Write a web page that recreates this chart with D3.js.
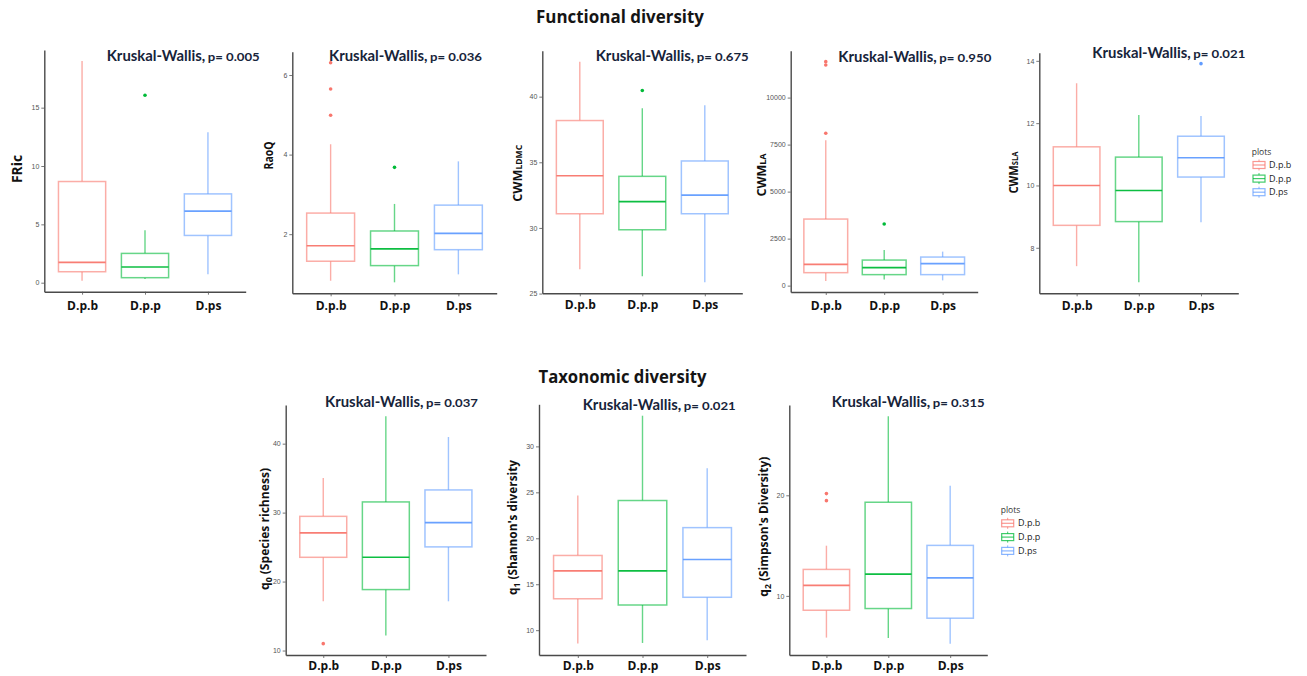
<!DOCTYPE html>
<html><head><meta charset="utf-8">
<script src="https://cdn.jsdelivr.net/npm/d3@7"></script>
<style>body{margin:0;background:#fff} svg{display:block}</style>
</head><body><svg id="c" width="1307" height="676"></svg>
<script>
// ---------- data ----------
const categories = ["D.p.b","D.p.p","D.ps"];
const colors = ["#F8766D","#00BA38","#619CFF"];
// each row: [lower whisker, Q1, median, Q3, upper whisker]
const fricStats = [[0.17,0.94,1.74,8.67,19.0],[0.32,0.43,1.34,2.51,4.5],[0.72,4.05,6.13,7.61,12.9]];
const fricOutliers = [[],[16.07],[]];
const fricTicks = [0,5,10,15];
const raoqStats = [[0.83,1.32,1.71,2.53,4.26],[0.79,1.21,1.63,2.08,2.76],[0.99,1.61,2.02,2.73,3.83]];
const raoqOutliers = [[4.99,5.65,6.31],[3.68],[]];
const raoqTicks = [2,4,6];
const ldmcStats = [[26.85,31.08,33.98,38.18,42.66],[26.32,29.86,32.0,33.93,39.12],[25.86,31.08,32.5,35.1,39.35]];
const ldmcOutliers = [[],[40.47],[]];
const ldmcTicks = [25,30,35,40];
const laStats = [[245,690,1130,3540,7730],[320,585,960,1360,1890],[280,585,1170,1520,1810]];
const laOutliers = [[8100,11730,11910],[3280],[]];
const laTicks = [0,2500,5000,7500,10000];
const slaStats = [[7.41,8.72,10.0,11.24,13.28],[6.89,8.84,9.84,10.91,12.26],[8.82,10.27,10.89,11.58,12.23]];
const slaOutliers = [[],[],[13.91]];
const slaTicks = [8,10,12,14];
const q0Stats = [[17.14,23.52,27.06,29.46,35.03],[12.17,18.84,23.52,31.55,43.96],[17.14,25.03,28.55,33.29,40.97]];
const q0Outliers = [[11.0],[],[]];
const q0Ticks = [10,20,30,40];
const q1Stats = [[8.54,13.42,16.45,18.13,24.66],[8.61,12.74,16.45,24.11,33.34],[8.91,13.58,17.69,21.16,27.61]];
const q1Outliers = [[],[],[]];
const q1Ticks = [10,15,20,25,30];
const q2Stats = [[5.85,8.57,11.04,12.63,14.99],[5.81,8.74,12.16,19.31,27.85],[5.25,7.78,11.79,15.02,20.94]];
const q2Outliers = [[19.47,20.17],[],[]];
const q2Ticks = [10,20];
const kwPValues = ["0.005","0.036","0.675","0.950","0.021","0.037","0.021","0.315"];
const yTitles = [
  [["FRic",1]],
  [["RaoQ",1]],
  [["CWM",1],["LDMC",0.68]],
  [["CWM",1],["LA",0.72]],
  [["CWM",1],["SLA",0.68]],
  [["q",1],["0",0.72,3],[" (Species richness)",1]],
  [["q",1],["1",0.72,3],[" (Shannon's diversity",1]],
  [["q",1],["2",0.72,3],[" (Simpson's Diversity)",1]]
];
const sectionTitles = ["Functional diversity","Taxonomic diversity"];
const legendTitle = "plots";

// ---------- layout ----------
const layout = [
 {l:44.3,r:245.7,t:50,b:291.7, kw:[106.7,61], yt:[17,169,28,15], xb:310},
 {l:292.3,r:496.7,t:51.7,b:293.3, kw:[329,60.7], yt:[268.7,155.5,28,11.5], xb:310},
 {l:542.3,r:742.3,t:50.7,b:293.3, kw:[595.7,61], yt:[517,173.3,57,13], xb:309},
 {l:790.7,r:977.7,t:50.7,b:292, kw:[838.3,61.5], yt:[761,175,43,13], xb:310},
 {l:1039.3,r:1238.3,t:52.7,b:293.3, kw:[1092.3,57.7], yt:[1013,172.5,42,13], xb:310},
 {l:285.7,r:486,t:405,b:655, kw:[325,406.7], yt:[264,529,122,12.5], xb:670},
 {l:539,r:746,t:404.3,b:655, kw:[582.7,410], yt:[512.5,527.5,135,12.5], xb:670},
 {l:789.3,r:987.3,t:405,b:655, kw:[831.7,407.3], yt:[763,526.7,140,12.5], xb:670}
];
const panelData = [
 [fricStats,fricOutliers,fricTicks],[raoqStats,raoqOutliers,raoqTicks],[ldmcStats,ldmcOutliers,ldmcTicks],
 [laStats,laOutliers,laTicks],[slaStats,slaOutliers,slaTicks],[q0Stats,q0Outliers,q0Ticks],
 [q1Stats,q1Outliers,q1Ticks],[q2Stats,q2Outliers,q2Ticks]
];
const legends = [
 {x:1251.7, ty:154.5, keyX:1253, textX:1269, y0:165, step:13.6},
 {x:1000.7, ty:513, keyX:1001.7, textX:1018, y0:523.3, step:13.8}
];
const sectionPos = [[620,23,168],[622.5,383,168]];

const svg = d3.select("#c");
const FONT = "'Open Sans', 'Noto Sans', sans-serif";
const KWFONT = "Lato, 'Open Sans', sans-serif";

function fit(sel, w){ sel.attr("textLength", w).attr("lengthAdjust","spacingAndGlyphs"); }

// section titles
sectionTitles.forEach((t,i)=>{
  svg.append("text").attr("x",sectionPos[i][0]).attr("y",sectionPos[i][1])
    .attr("text-anchor","middle").attr("font-family",FONT).attr("font-weight",700)
    .attr("font-size",17).attr("fill","#151515").text(t).call(fit, sectionPos[i][2]);
});

panelData.forEach(([stats, outs, ticks], i)=>{
  const L = layout[i];
  const g = svg.append("g");
  const vals = stats.flat().concat(outs.flat());
  const [mn, mx] = d3.extent(vals);
  const pad = (mx-mn)*0.05;
  const y = d3.scaleLinear().domain([mn-pad, mx+pad]).range([L.b, L.t]);
  const x = d3.scalePoint().domain(categories).range([L.l, L.r]).padding(0.6);
  const bw = x.step()*0.75;

  // boxes
  categories.forEach((c,j)=>{
    const [lo,q1,md,q3,hi] = stats[j];
    const cx = x(c), col = colors[j];
    const bg = g.append("g").attr("stroke",col).attr("fill","none");
    bg.append("line").attr("x1",cx).attr("x2",cx).attr("y1",y(hi)).attr("y2",y(q3))
      .attr("stroke-width",1.4).attr("stroke-opacity",0.6);
    bg.append("line").attr("x1",cx).attr("x2",cx).attr("y1",y(q1)).attr("y2",y(lo))
      .attr("stroke-width",1.4).attr("stroke-opacity",0.6);
    bg.append("rect").attr("x",cx-bw/2).attr("width",bw).attr("y",y(q3)).attr("height",y(q1)-y(q3))
      .attr("fill","#fff").attr("stroke-width",1.5).attr("stroke-opacity",0.6);
    bg.append("line").attr("x1",cx-bw/2).attr("x2",cx+bw/2).attr("y1",y(md)).attr("y2",y(md))
      .attr("stroke-width",1.6).attr("stroke-opacity",0.95);
    outs[j].forEach(v=>{
      g.append("circle").attr("cx",cx).attr("cy",y(v)).attr("r",1.8).attr("fill",col);
    });
  });

  // y axis
  const ya = g.append("g").attr("transform",`translate(${L.l},0)`)
    .call(d3.axisLeft(y).tickValues(ticks).tickSize(3).tickSizeOuter(0).tickPadding(2).tickFormat(d3.format("d")));
  ya.select(".domain").attr("stroke","#4a4a4a").attr("stroke-width",1.4);
  ya.selectAll(".tick line").attr("stroke","#555").attr("stroke-width",0.8);
  ya.selectAll(".tick text").attr("font-family","'Liberation Sans', Arial, sans-serif")
    .attr("font-size",7).attr("fill","#555");

  // x axis
  const xa = g.append("g").attr("transform",`translate(0,${L.b})`)
    .call(d3.axisBottom(x).tickSize(3).tickSizeOuter(0));
  xa.select(".domain").attr("stroke","#4a4a4a").attr("stroke-width",1.4);
  xa.selectAll(".tick line").attr("stroke","#555").attr("stroke-width",0.8);
  xa.selectAll(".tick text").attr("y", L.xb - L.b).attr("dy",0)
    .attr("font-family",FONT).attr("font-weight",700).attr("font-size",12).attr("fill","#111");

  // KW label (one text element, two runs)
  const kw = g.append("text").attr("x",L.kw[0]).attr("y",L.kw[1])
    .attr("font-family",KWFONT).attr("font-weight",700).attr("fill","#17243a");
  kw.append("tspan").attr("font-size",14.5).text("Kruskal-Wallis,").call(fit,98.5);
  kw.append("tspan").attr("font-size",10.5).attr("dx",2.5).text("p= "+kwPValues[i]).call(fit,52);

  // y title
  const [tx,ty,tl,ts] = L.yt;
  const t = g.append("text").attr("transform",`translate(${tx},${ty}) rotate(-90)`)
    .attr("text-anchor","middle").attr("dy","0.36em")
    .attr("font-family",FONT).attr("font-weight",700).attr("font-size",ts).attr("fill","#111");
  yTitles[i].forEach(([s,f,sh])=>{
    const sp = t.append("tspan").attr("font-size",ts*f).text(s);
    if (sh) sp.attr("dy",sh);
  });
  const subs = yTitles[i].filter(p=>p[2]);
  if (subs.length){
    t.selectAll("tspan").filter((d,k)=>k===2).attr("dy",-subs[0][2]);
  }
  t.call(fit,tl);
});

// legends
legends.forEach(Lg=>{
  const g = svg.append("g");
  g.append("text").attr("x",Lg.x).attr("y",Lg.ty).attr("font-family",FONT)
    .attr("font-size",8.5).attr("fill","#333").text(legendTitle);
  categories.forEach((c,j)=>{
    const cy = Lg.y0 + j*Lg.step;
    const kg = g.append("g").attr("stroke",colors[j]).attr("fill","none").attr("stroke-opacity",0.75);
    kg.append("line").attr("x1",Lg.keyX+6).attr("x2",Lg.keyX+6).attr("y1",cy-5.5).attr("y2",cy+5.5).attr("stroke-width",1);
    kg.append("rect").attr("x",Lg.keyX).attr("y",cy-3.5).attr("width",12).attr("height",7)
      .attr("fill","#fff").attr("stroke-width",1.2);
    kg.append("line").attr("x1",Lg.keyX).attr("x2",Lg.keyX+12).attr("y1",cy).attr("y2",cy).attr("stroke-width",1.2);
    g.append("text").attr("x",Lg.textX).attr("y",cy).attr("dy","0.35em").attr("font-family",FONT)
      .attr("font-size",9).attr("fill","#222").text(c);
  });
});
</script></body></html>
